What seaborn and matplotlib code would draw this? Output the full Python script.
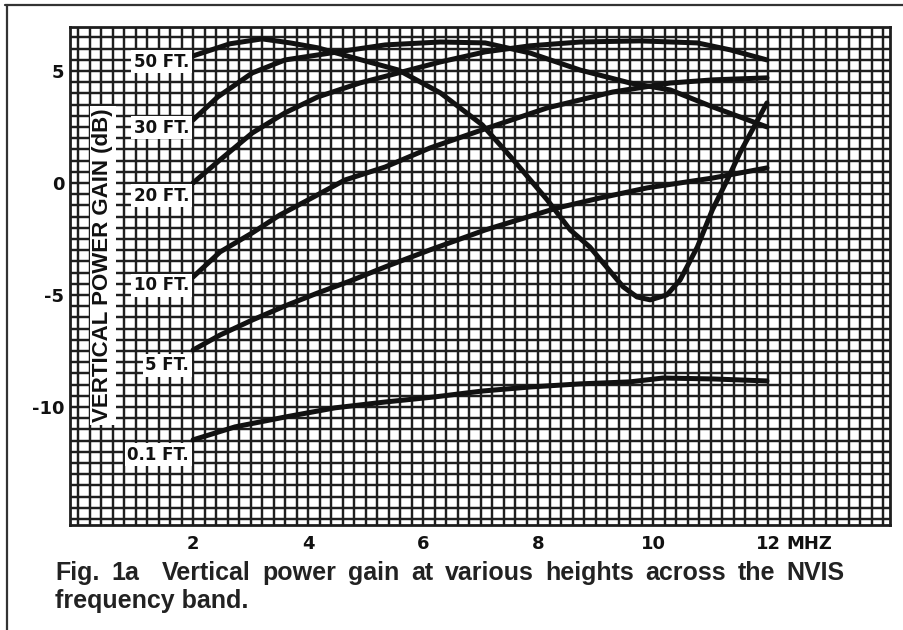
import numpy as np
import pandas as pd
import matplotlib
matplotlib.use("Agg")
import matplotlib.pyplot as plt
from matplotlib.ticker import MultipleLocator
from matplotlib.lines import Line2D
import seaborn as sns

# values (MHz, dB)
heights = ["50 FT.", "30 FT.", "20 FT.", "10 FT.", "5 FT.", "0.1 FT."]

f_50 = [2.00, 2.64, 3.20, 3.69, 4.17, 4.73, 5.57, 6.30, 7.03, 7.57, 8.16, 8.56,
        8.90, 9.48, 9.72, 9.95, 10.24, 10.47, 10.77, 11.03, 11.29, 11.51, 11.98]
g_50 = [5.67, 6.21, 6.43, 6.25, 6.03, 5.63, 5.04, 4.02, 2.59, 1.03, -0.76, -2.10,
        -2.86, -4.64, -5.09, -5.22, -5.00, -4.33, -2.86, -1.21, 0.13, 1.34, 3.57]

f_30 = [2.00, 2.43, 3.03, 3.60, 4.52, 5.34, 6.30, 7.08, 7.86, 8.73, 9.60, 10.30, 11.04, 11.98]
g_30 = [2.81, 3.84, 4.91, 5.49, 5.85, 6.16, 6.29, 6.25, 5.80, 5.04, 4.46, 4.15, 3.39, 2.50]

f_20 = [2.00, 2.47, 3.03, 3.60, 4.17, 4.90, 5.57, 6.30, 7.08, 7.86, 8.73, 9.77, 10.77, 11.34, 11.98]
g_20 = [0.00, 1.03, 2.23, 3.13, 3.84, 4.46, 4.91, 5.40, 5.85, 6.12, 6.29, 6.34, 6.25, 5.94, 5.49]

f_10 = [2.00, 2.47, 3.03, 3.51, 4.00, 4.64, 5.34, 6.12, 7.03, 8.16, 9.30, 10.30, 11.04, 11.98]
g_10 = [-4.20, -3.08, -2.23, -1.43, -0.76, 0.13, 0.71, 1.56, 2.37, 3.35, 4.06, 4.46, 4.60, 4.69]

f_5 = [2.00, 2.47, 3.03, 3.60, 4.17, 4.73, 5.34, 6.12, 7.08, 8.33, 9.08, 9.90, 11.04, 11.98]
g_5 = [-7.46, -6.79, -6.12, -5.49, -4.91, -4.38, -3.75, -2.99, -2.10, -1.12, -0.67, -0.22, 0.22, 0.67]

f_01 = [2.00, 2.73, 3.60, 4.47, 5.34, 6.21, 7.03, 7.86, 8.73, 9.60, 10.17, 11.04, 11.98]
g_01 = [-11.47, -10.89, -10.45, -10.04, -9.78, -9.55, -9.29, -9.11, -8.97, -8.88, -8.71, -8.75, -8.84]

x_ticks = [2, 4, 6, 8, 10, 12]
x_ticklabels = ["2", "4", "6", "8", "10", "12"]
y_ticks = [-10, -5, 0, 5]
y_ticklabels = ["-10", "-5", "0", "5"]

caption_1 = "Fig. 1a  Vertical power gain at various heights across the NVIS"
caption_2 = "frequency band."

freqs = [f_50, f_30, f_20, f_10, f_5, f_01]
gains = [g_50, g_30, g_20, g_10, g_5, g_01]
df = pd.concat([pd.DataFrame({"freq": f, "gain": g, "height": h})
                for f, g, h in zip(freqs, gains, heights)], ignore_index=True)

sns.set_style("white")
plt.rcParams["font.family"] = ["Liberation Sans", "DejaVu Sans"]
wide = ["DejaVu Sans"]

fig = plt.figure(figsize=(9.04, 6.30), dpi=100)
ax = fig.add_axes([70 / 904, 1 - 525 / 630, 820 / 904, 498 / 630])

ax.set_xlim(-0.14, 14.12)
ax.set_ylim(-15.27, 6.96)

# graph-paper grid
ax.xaxis.set_minor_locator(MultipleLocator(0.2))
ax.yaxis.set_minor_locator(MultipleLocator(0.5))
ax.grid(which="both", color="#1e1e1e", linewidth=1.75)
ax.set_axisbelow(True)
for s in ax.spines.values():
    s.set_color("#1e1e1e")
    s.set_linewidth(2.0)

sns.lineplot(data=df, x="freq", y="gain", hue="height", hue_order=heights,
             palette=["#111111"] * len(heights), linewidth=3.6, legend=False,
             sort=False, estimator=None, ax=ax, zorder=5)
for ln in ax.lines:
    ln.set_solid_capstyle("round")
    ln.set_solid_joinstyle("round")

# height labels in white boxes, left of each curve start
label_dy = [-6, -8, -13, -8, -15, -15]
for f, g, h, dy in zip(freqs, gains, heights, label_dy):
    ax.annotate(h, xy=(f[0], g[0]), xytext=(-4, dy), textcoords="offset pixels",
                ha="right", va="center", fontsize=12, fontweight="bold",
                family=wide, color="#111111", zorder=6,
                bbox=dict(boxstyle="square,pad=0.15", fc="white", ec="none"))

ax.text(0.040, 0.522, "VERTICAL POWER GAIN (dB)", rotation=90, transform=ax.transAxes,
        ha="center", va="center", fontsize=16, fontweight="bold", color="#111111",
        zorder=6, bbox=dict(boxstyle="square,pad=0.12", fc="white", ec="none"))

ax.set_xticks(x_ticks)
ax.set_xticklabels(x_ticklabels, fontsize=13, fontweight="bold", color="#111111",
                   family=wide)
ax.set_yticks(y_ticks)
ax.set_yticklabels(y_ticklabels, fontsize=13, fontweight="bold", color="#111111",
                   family=wide)
ax.tick_params(axis="x", length=0, pad=7)
ax.tick_params(axis="y", length=0, pad=4)
ax.set_xlabel("")
ax.set_ylabel("")
ax.annotate("MHZ", xy=(12, 0), xycoords=("data", "axes fraction"),
            xytext=(18, -10), textcoords="offset pixels", ha="left", va="top",
            fontsize=13, fontweight="bold", color="#111111", family=wide)

# caption, first line justified between x=55 and x=845 px
cap_kw = dict(fontsize=18, fontweight="bold", color="#222222", va="baseline", ha="left")
renderer = fig.canvas.get_renderer()
words = [w for w in caption_1.split(" ") if w]
widths = []
for w in words:
    t = fig.text(0, 0, w, **cap_kw)
    widths.append(t.get_window_extent(renderer).width)
    t.remove()
left, right = 55, 845
gap = (right - left - sum(widths)) / len(words)   # one extra gap after "1a"
xpos = left
for i, (w, wd) in enumerate(zip(words, widths)):
    fig.text(xpos / 904, 1 - 580 / 630, w, **cap_kw)
    xpos += wd + gap * (2 if i == 1 else 1)
fig.text(55 / 904, 1 - 608 / 630, caption_2, **cap_kw)

# outer frame (top and left edges)
fig.add_artist(Line2D([5 / 904, 1], [1 - 5 / 630, 1 - 5 / 630], color="#333333",
                      linewidth=1.6, transform=fig.transFigure))
fig.add_artist(Line2D([7 / 904, 7 / 904], [0, 1 - 5 / 630], color="#333333",
                      linewidth=1.6, transform=fig.transFigure))

plt.savefig("out.png", dpi=100)
